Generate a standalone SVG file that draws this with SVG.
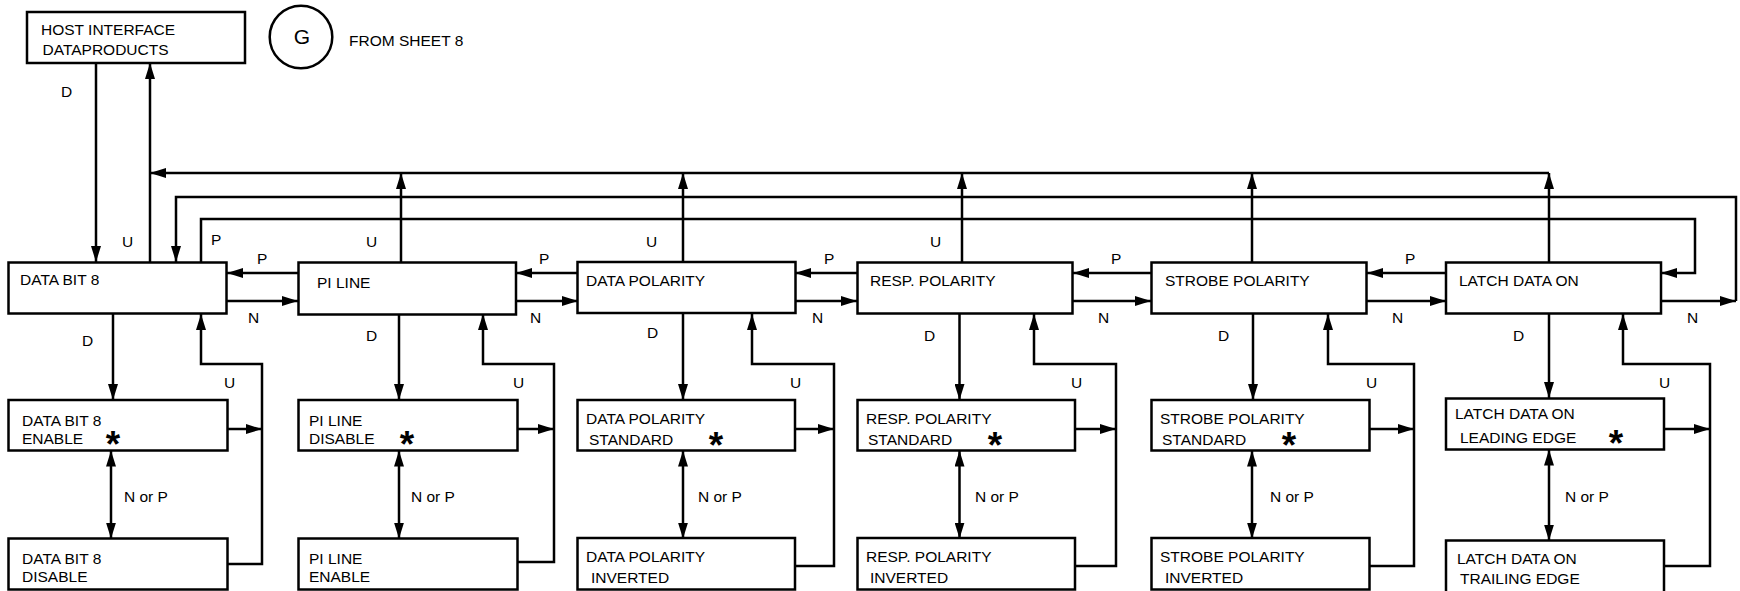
<svg xmlns="http://www.w3.org/2000/svg" width="1740" height="591" viewBox="0 0 1740 591">
<style>
.b{fill:#fff;stroke:#000;stroke-width:2.5}
.t{font-family:"Liberation Sans",Arial,sans-serif;font-size:15.5px;fill:#000}
.s{font-family:"Liberation Sans",Arial,sans-serif;font-size:37px;font-weight:bold;fill:#000}
.c path{fill:none;stroke:#000;stroke-width:2.5}
.a{marker-end:url(#ah)}
.d{marker-start:url(#ah);marker-end:url(#ah)}
</style>
<defs>
<marker id="ah" markerUnits="userSpaceOnUse" viewBox="0 0 16 10" markerWidth="16" markerHeight="10" refX="16" refY="5" orient="auto-start-reverse"><path d="M0,0 L16,5 L0,10 z" fill="#000"/></marker>
</defs>
<rect width="1740" height="591" fill="#fff"/>
<g class="c" id="connectors">
<path class="a" d="M96,63 V262"/>
<path class="a" d="M150,262 V63"/>
<path class="a" d="M1549,173 H150"/>
<path class="a" d="M401,262 V173"/>
<path class="a" d="M683,262 V173"/>
<path class="a" d="M962,262 V173"/>
<path class="a" d="M1252,262 V173"/>
<path class="a" d="M1549,262 V173"/>
<path class="a" d="M1661,301 H1736"/>
<path class="a" d="M1736,301 V197 H176 V262"/>
<path class="a" d="M201,262 V219 H1695 V273 H1661"/>
<path class="a" d="M298,273 H227"/>
<path class="a" d="M578,273 H516"/>
<path class="a" d="M857,273 H795"/>
<path class="a" d="M1151,273 H1073"/>
<path class="a" d="M1446,273 H1367"/>
<path class="a" d="M227,301 H298"/>
<path class="a" d="M516,301 H578"/>
<path class="a" d="M795,301 H857"/>
<path class="a" d="M1072,301 H1151"/>
<path class="a" d="M1367,301 H1446"/>
<path class="a" d="M113,314 V400"/>
<path class="a" d="M399,314 V400"/>
<path class="a" d="M683,314 V400"/>
<path class="a" d="M959.5,314 V400"/>
<path class="a" d="M1253,314 V400"/>
<path class="a" d="M1549,314 V398"/>
<path class="d" d="M111,450.5 V538.5"/>
<path class="d" d="M399,450.5 V538.5"/>
<path class="d" d="M683,450.5 V538.5"/>
<path class="d" d="M959.5,450.5 V538.5"/>
<path class="d" d="M1252,450.5 V538.5"/>
<path class="d" d="M1549,449.5 V540.5"/>
<path class="a" d="M228,564 H262 V364 H201 V314"/>
<path class="a" d="M228,429 H262"/>
<path class="a" d="M517,562 H554 V364 H483 V314"/>
<path class="a" d="M517,429 H554"/>
<path class="a" d="M795,566 H834 V364 H752 V314"/>
<path class="a" d="M795,429 H834"/>
<path class="a" d="M1075,566 H1116 V364 H1034 V314"/>
<path class="a" d="M1075,429 H1116"/>
<path class="a" d="M1370,566 H1414 V364 H1328 V314"/>
<path class="a" d="M1370,429 H1414"/>
<path class="a" d="M1664,566 H1710 V364 H1623 V314"/>
<path class="a" d="M1664,429 H1710"/>
</g>
<g id="labels">
<text class="t" x="61" y="97">D</text>
<text class="t" x="122" y="247">U</text>
<text class="t" x="211" y="245">P</text>
<text class="t" x="366" y="247">U</text>
<text class="t" x="646" y="247">U</text>
<text class="t" x="930" y="247">U</text>
<text class="t" x="257" y="264">P</text>
<text class="t" x="539" y="264">P</text>
<text class="t" x="824" y="264">P</text>
<text class="t" x="1111" y="264">P</text>
<text class="t" x="1405" y="264">P</text>
<text class="t" x="248" y="323">N</text>
<text class="t" x="530" y="323">N</text>
<text class="t" x="812" y="323">N</text>
<text class="t" x="1098" y="323">N</text>
<text class="t" x="1392" y="323">N</text>
<text class="t" x="1687" y="323">N</text>
<text class="t" x="82" y="346">D</text>
<text class="t" x="366" y="341">D</text>
<text class="t" x="647" y="338">D</text>
<text class="t" x="924" y="341">D</text>
<text class="t" x="1218" y="341">D</text>
<text class="t" x="1513" y="341">D</text>
<text class="t" x="224" y="388">U</text>
<text class="t" x="513" y="388">U</text>
<text class="t" x="790" y="388">U</text>
<text class="t" x="1071" y="388">U</text>
<text class="t" x="1366" y="388">U</text>
<text class="t" x="1659" y="388">U</text>
<text class="t" x="124" y="502">N or P</text>
<text class="t" x="411" y="502">N or P</text>
<text class="t" x="698" y="502">N or P</text>
<text class="t" x="975" y="502">N or P</text>
<text class="t" x="1270" y="502">N or P</text>
<text class="t" x="1565" y="502">N or P</text>
</g>
<g id="host"><rect class="b" x="27" y="12" width="218" height="51"/><text class="t" x="41" y="35">HOST INTERFACE</text><text class="t" x="42.5" y="55">DATAPRODUCTS</text></g>
<g id="sheetG"><circle cx="301" cy="37" r="31.3" fill="#fff" stroke="#000" stroke-width="2.5"/><text x="302" y="44" text-anchor="middle" style="font-family:'Liberation Sans',Arial,sans-serif;font-size:21px">G</text><text class="t" x="349" y="46">FROM SHEET 8</text></g>
<g id="databit8"><rect class="b" x="8.5" y="262.5" width="218" height="51"/><text class="t" x="20" y="285">DATA BIT 8</text></g>
<g id="piline"><rect class="b" x="298.5" y="262.5" width="217.5" height="52"/><text class="t" x="317" y="288">PI LINE</text></g>
<g id="datapol"><rect class="b" x="577.5" y="262" width="218" height="51"/><text class="t" x="586" y="286">DATA POLARITY</text></g>
<g id="resppol"><rect class="b" x="857.5" y="262.5" width="215" height="51"/><text class="t" x="870" y="286">RESP. POLARITY</text></g>
<g id="strobepol"><rect class="b" x="1151.5" y="262.5" width="215" height="51"/><text class="t" x="1165" y="286">STROBE POLARITY</text></g>
<g id="latch"><rect class="b" x="1446" y="262.5" width="215" height="51"/><text class="t" x="1459" y="286">LATCH DATA ON</text></g>
<g id="db8enable"><rect class="b" x="8.5" y="400" width="219" height="50.5"/><text class="t" x="22" y="426">DATA BIT 8</text><text class="t" x="22" y="444">ENABLE</text><text class="s" x="113" y="457" text-anchor="middle">*</text></g>
<g id="db8disable"><rect class="b" x="8.5" y="538.5" width="219" height="51"/><text class="t" x="22" y="564">DATA BIT 8</text><text class="t" x="22" y="582">DISABLE</text></g>
<g id="pidisable"><rect class="b" x="298.5" y="400" width="219" height="50.5"/><text class="t" x="309" y="426">PI LINE</text><text class="t" x="309" y="444">DISABLE</text><text class="s" x="407" y="457" text-anchor="middle">*</text></g>
<g id="pienable"><rect class="b" x="298.5" y="538.5" width="219" height="51"/><text class="t" x="309" y="564">PI LINE</text><text class="t" x="309" y="582">ENABLE</text></g>
<g id="dpstandard"><rect class="b" x="577.5" y="400" width="217.5" height="50.5"/><text class="t" x="586" y="424">DATA POLARITY</text><text class="t" x="589" y="445">STANDARD</text><text class="s" x="716" y="458" text-anchor="middle">*</text></g>
<g id="dpinverted"><rect class="b" x="577.5" y="538" width="217.5" height="51.5"/><text class="t" x="586" y="562">DATA POLARITY</text><text class="t" x="591" y="583">INVERTED</text></g>
<g id="rpstandard"><rect class="b" x="857.5" y="400" width="217.5" height="50.5"/><text class="t" x="866" y="424">RESP. POLARITY</text><text class="t" x="868" y="445">STANDARD</text><text class="s" x="995" y="458" text-anchor="middle">*</text></g>
<g id="rpinverted"><rect class="b" x="857.5" y="538" width="217.5" height="51.5"/><text class="t" x="866" y="562">RESP. POLARITY</text><text class="t" x="870" y="583">INVERTED</text></g>
<g id="spstandard"><rect class="b" x="1151.5" y="400" width="218" height="50.5"/><text class="t" x="1160" y="424">STROBE POLARITY</text><text class="t" x="1162" y="445">STANDARD</text><text class="s" x="1289" y="458" text-anchor="middle">*</text></g>
<g id="spinverted"><rect class="b" x="1151.5" y="538" width="218" height="51.5"/><text class="t" x="1160" y="562">STROBE POLARITY</text><text class="t" x="1165" y="583">INVERTED</text></g>
<g id="leading"><rect class="b" x="1446" y="398.5" width="218" height="51"/><text class="t" x="1455" y="419">LATCH DATA ON</text><text class="t" x="1460" y="443">LEADING EDGE</text><text class="s" x="1616" y="456" text-anchor="middle">*</text></g>
<g id="trailing"><rect class="b" x="1446" y="540.5" width="218" height="52"/><text class="t" x="1457" y="564">LATCH DATA ON</text><text class="t" x="1460" y="584">TRAILING EDGE</text></g>
</svg>
